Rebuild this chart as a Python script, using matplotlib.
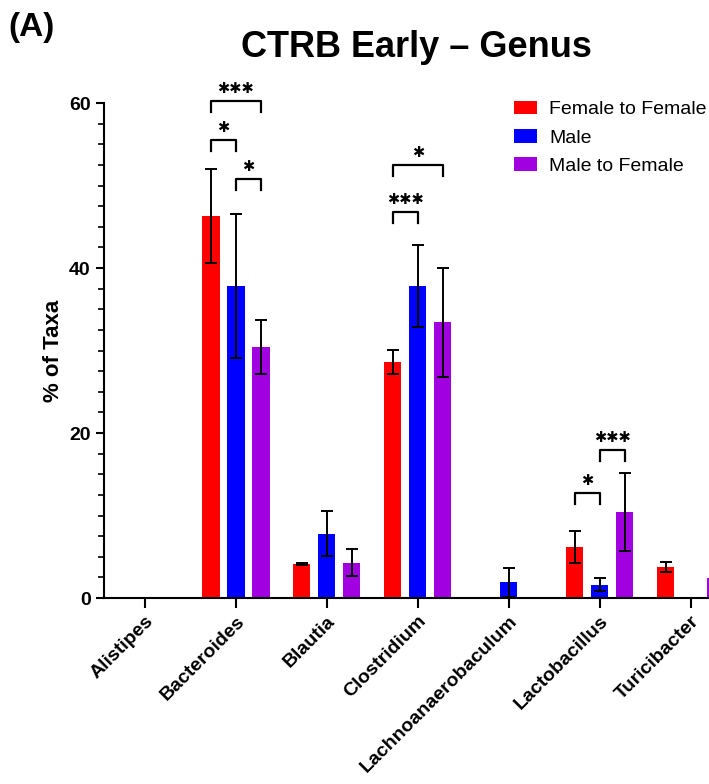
import numpy as np
import matplotlib
matplotlib.use("Agg")
import matplotlib.pyplot as plt
from matplotlib.ticker import MultipleLocator

genera = ["Alistipes", "Bacteroides", "Blautia", "Clostridium",
          "Lachnoanaerobaculum", "Lactobacillus", "Turicibacter"]
groups = ["Female to Female", "Male", "Male to Female"]
colors = ["#FF0000", "#0000FF", "#A100E0"]

# means and error (half-width) for each group
ff_mean = [0, 46.3, 4.1, 28.6, 0, 6.2, 3.8]
ff_err = [0, 5.7, 0.1, 1.5, 0, 1.9, 0.6]
m_mean = [0, 37.8, 7.8, 37.8, 1.9, 1.6, 0]
m_err = [0, 8.7, 2.7, 5.0, 1.8, 0.8, 0]
mf_mean = [0, 30.4, 4.3, 33.4, 0, 10.4, 2.4]
mf_err = [0, 3.3, 1.6, 6.6, 0, 4.7, 0]

# significance brackets: (genus index, group a, group b, height, stars)
sig = [(1, 0, 2, 60.2, 3),
       (1, 0, 1, 55.5, 1),
       (1, 1, 2, 50.8, 1),
       (3, 0, 2, 52.5, 1),
       (3, 0, 1, 46.8, 3),
       (5, 0, 1, 12.7, 1),
       (5, 1, 2, 17.9, 3)]

means = [ff_mean, m_mean, mf_mean]
errs = [ff_err, m_err, mf_err]

plt.rcParams['font.family'] = ['Liberation Sans', 'DejaVu Sans']

fig = plt.figure(figsize=(7.09, 7.84), dpi=100)
ax = fig.add_axes([0.1467, 0.2372, 0.853, 0.6314])

x = np.arange(len(genera))
offset = 0.275
width = 0.19
for i in range(3):
    xi = x + (i - 1) * offset
    m = np.array(means[i])
    e = np.array(errs[i])
    ax.bar(xi, m, width, color=colors[i], label=groups[i], zorder=2)
    show = e > 0
    ax.errorbar(xi[show], m[show], yerr=e[show], fmt="none", ecolor="black",
                elinewidth=1.4, capsize=4, capthick=1.4, zorder=3)

leg = 1.3
for g, a, b, h, n in sig:
    xa = g + (a - 1) * offset
    xb = g + (b - 1) * offset
    ax.plot([xa, xa, xb, xb], [h - leg, h, h, h - leg], color="black",
            lw=1.6, clip_on=False, zorder=4)
    ax.text((xa + xb) / 2, h + 0.6, "\u2731" * n, ha="center",
            va="bottom", fontsize=10.5, family="DejaVu Sans", clip_on=False)

ax.set_xlim(-0.45, 6.2)
ax.set_ylim(0, 60)
ax.yaxis.set_major_locator(MultipleLocator(20))
ax.yaxis.set_minor_locator(MultipleLocator(2.5))
ax.spines["top"].set_visible(False)
ax.spines["right"].set_visible(False)
ax.spines["left"].set_linewidth(1.5)
ax.spines["bottom"].set_linewidth(1.5)
ax.tick_params(axis="y", which="major", length=6, width=1.5)
ax.tick_params(axis="y", which="minor", length=4, width=1.2)
ax.tick_params(axis="x", length=7, width=1.5)

ax.set_xticks(x)
ax.set_xticklabels(genera, rotation=45, ha="right", rotation_mode="anchor",
                   fontsize=14, fontweight="bold")
for t in ax.get_yticklabels():
    t.set_fontsize(14)
    t.set_fontweight("bold")
ax.set_ylabel("% of Taxa", fontsize=16, fontweight="bold", labelpad=4)

ax.legend(loc="upper right", bbox_to_anchor=(1.025, 1.04), frameon=False,
          prop={"size": 14},
          handlelength=1.2, handleheight=0.7, handletextpad=0.6,
          labelspacing=0.55)

fig.text(0.588, 0.94, "CTRB Early \u2013 Genus", ha="center", va="center",
         fontsize=26, fontweight="bold")
fig.text(0.012, 0.965, "(A)", ha="left", va="center",
         fontsize=24, fontweight="bold")

fig.savefig("out.png", dpi=100)
